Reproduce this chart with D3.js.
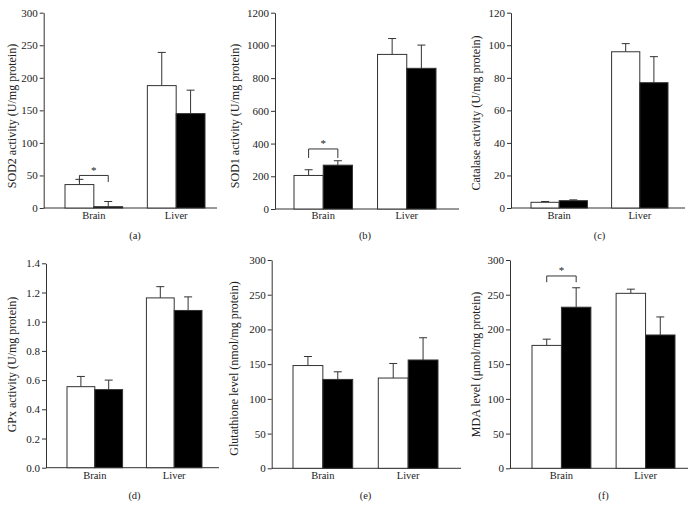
<!DOCTYPE html>
<html><head><meta charset="utf-8">
<script src="https://cdn.jsdelivr.net/npm/d3@7"></script>
<style>body{margin:0;background:#fff}svg{display:block}text{font-family:"Liberation Serif","Times New Roman",serif;fill:#222}</style>
</head><body>
<svg id="c" width="693" height="511"></svg>
<script>
const categories = ["Brain", "Liver"];
const series = ["Control", "Treated"];
const panelLetters = ["(a)", "(b)", "(c)", "(d)", "(e)", "(f)"];
const yLabels = ["SOD2 activity (U/mg protein)", "SOD1 activity (U/mg protein)", "Catalase activity (U/mg protein)",
  "GPx activity (U/mg protein)", "Glutathione level (nmol/mg protein)", "MDA level (\u03bcmol/mg protein)"];
const yMax = [300, 1200, 120, 1.4, 300, 300];
const yStep = [50, 200, 20, 0.2, 50, 50];
// values [Brain, Liver] for each series
const sod2Mean = [[36, 188], [2, 145]];
const sod2Err = [[8, 51], [8, 36]];
const sod1Mean = [[205, 945], [268, 860]];
const sod1Err = [[35, 97], [27, 142]];
const catMean = [[3.5, 96], [4.5, 77]];
const catErr = [[0.5, 5], [0.5, 16]];
const gpxMean = [[0.555, 1.163], [0.535, 1.077]];
const gpxErr = [[0.07, 0.077], [0.065, 0.093]];
const gshMean = [[148, 130], [128, 156]];
const gshErr = [[13, 21], [11, 32]];
const mdaMean = [[177, 252], [232, 192]];
const mdaErr = [[9, 6], [28, 26]];
const means = [sod2Mean, sod1Mean, catMean, gpxMean, gshMean, mdaMean];
const errs = [sod2Err, sod1Err, catErr, gpxErr, gshErr, mdaErr];
// significance brackets: panel index, bracket level, leg end level
const sigPanels = [0, 1, 5];
const sigLevel = [50, 367, 277];
const sigLeg = [40, 312, 268];

// layout (pixel positions)
const layout = [
  {ax: 43.7, axEnd: 217, top: 12.7, bot: 208, b0: 65, b1: 205, lx: 13, ly: 116, cy: 218, py: 239},
  {ax: 275, axEnd: 459, top: 12.7, bot: 209, b0: 294, b1: 436, lx: 236, ly: 116, cy: 218, py: 239},
  {ax: 511, axEnd: 685, top: 12.7, bot: 208, b0: 531, b1: 668, lx: 477, ly: 113, cy: 218, py: 239},
  {ax: 46, axEnd: 219, top: 263.3, bot: 467.7, b0: 67, b1: 202, lx: 13, ly: 364.5, cy: 478, py: 499},
  {ax: 271.7, axEnd: 461, top: 260, bot: 468.3, b0: 293, b1: 438, lx: 235, ly: 368.5, cy: 478, py: 499},
  {ax: 510, axEnd: 688, top: 260, bot: 468.3, b0: 532, b1: 675, lx: 477, ly: 364.5, cy: 478, py: 499}
];
const fills = ["#fff", "#000"];
const ink = "#333";
const svg = d3.select("#c");

layout.forEach((L, i) => {
  const g = svg.append("g");
  const y = d3.scaleLinear().domain([0, yMax[i]]).range([L.bot, L.top]);
  const x = d3.scaleBand().domain(categories).range([L.b0, L.b1]).paddingInner(0.3);
  const xs = d3.scaleBand().domain(series).range([0, x.bandwidth()]);
  const ticks = d3.range(0, yMax[i] + yStep[i] / 2, yStep[i]);
  const fmt = yStep[i] < 1 ? d3.format(".1f") : d3.format("d");
  const yAxis = g.append("g").attr("transform", `translate(${L.ax},0)`)
    .call(d3.axisLeft(y).tickValues(ticks).tickFormat(fmt).tickSize(4).tickSizeOuter(0));
  yAxis.select(".domain").attr("stroke", ink);
  yAxis.selectAll(".tick line").attr("stroke", ink);
  yAxis.selectAll(".tick text").attr("font-size", 11).attr("fill", "#222").attr("x", -6)
    .style("font-family", '"Liberation Serif",serif');
  // x axis line
  g.append("line").attr("x1", L.ax).attr("x2", L.axEnd).attr("y1", L.bot).attr("y2", L.bot)
    .attr("stroke", ink).attr("stroke-width", 1);
  // bars
  series.forEach((s, si) => {
    categories.forEach((c, ci) => {
      const m = means[i][si][ci], e = errs[i][si][ci];
      const bx = x(c) + xs(s), bw = xs.bandwidth();
      const cx = bx + bw / 2;
      g.append("line").attr("x1", cx).attr("x2", cx).attr("y1", y(m)).attr("y2", y(m + e))
        .attr("stroke", ink).attr("stroke-width", 1);
      g.append("line").attr("x1", cx - 4).attr("x2", cx + 4).attr("y1", y(m + e)).attr("y2", y(m + e))
        .attr("stroke", ink).attr("stroke-width", 1);
      g.append("rect").attr("x", bx).attr("y", y(m)).attr("width", bw).attr("height", L.bot - y(m))
        .attr("fill", fills[si]).attr("stroke", ink).attr("stroke-width", 1);
    });
  });
  // category labels
  categories.forEach(c => {
    g.append("text").attr("x", x(c) + x.bandwidth() / 2).attr("y", L.cy + 1).attr("text-anchor", "middle")
      .attr("font-size", 10.5).text(c);
  });
  // panel letter
  g.append("text").attr("x", (L.b0 + L.b1) / 2).attr("y", L.py).attr("text-anchor", "middle")
    .attr("font-size", 10.5).text(panelLetters[i]);
  // y label
  g.append("text").attr("transform", `translate(${L.lx},${L.ly}) rotate(-90)`).attr("text-anchor", "middle")
    .attr("dominant-baseline", "middle").attr("font-size", 12).text(yLabels[i]);
  // significance
  const k = sigPanels.indexOf(i);
  if (k >= 0) {
    const c = categories[0];
    const x1 = x(c) + xs(series[0]) + xs.bandwidth() / 2;
    const x2 = x(c) + xs(series[1]) + xs.bandwidth() / 2;
    const yl = y(sigLevel[k]), yg = y(sigLeg[k]);
    g.append("path").attr("d", `M${x1},${yg}V${yl}H${x2}V${yg}`).attr("fill", "none")
      .attr("stroke", ink).attr("stroke-width", 1);
    g.append("text").attr("x", (x1 + x2) / 2).attr("y", yl - 1.5).attr("text-anchor", "middle")
      .attr("font-size", 11).text("*");
  }
});
</script>
</body></html>
